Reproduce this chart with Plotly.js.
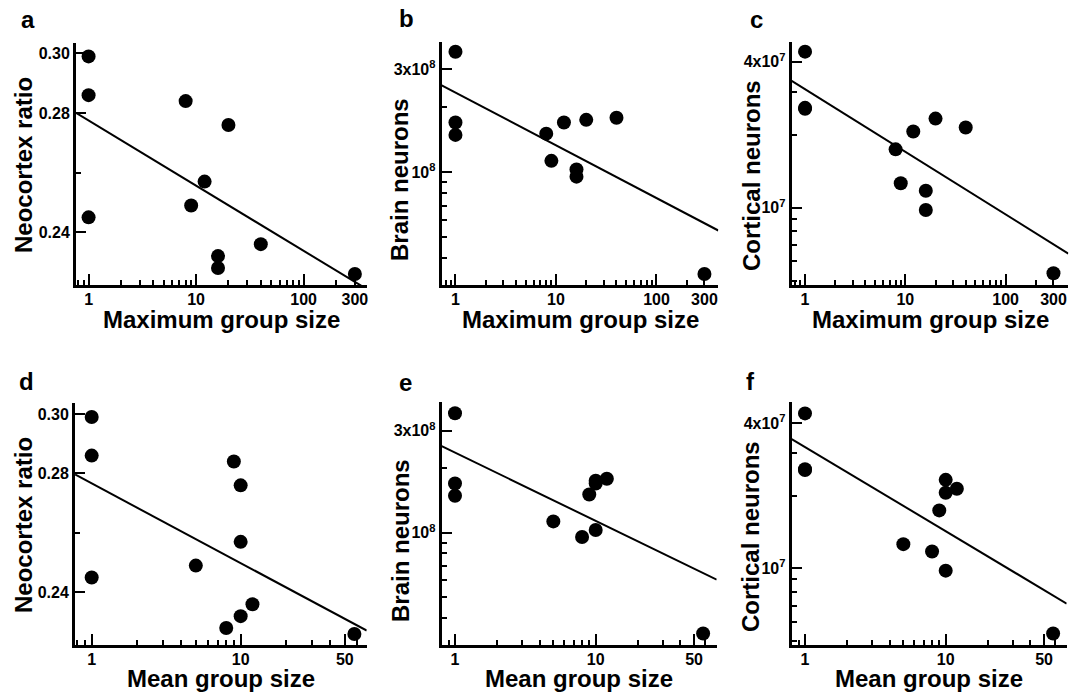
<!DOCTYPE html>
<html>
<head>
<meta charset="utf-8">
<script src="https://cdn.plot.ly/plotly-3.0.1.min.js"></script>
<style>
html,body{margin:0;padding:0;background:#ffffff;}
#chart{width:1084px;height:695px;}
</style>
</head>
<body>
<div id="chart"></div>
<script>
// ---------------- data (one entry per species) ----------------
const maxGroupSize    = [1, 1, 1, 8, 20, 12, 9, 16, 16, 40, 300];
const meanGroupSize   = [1, 1, 1, 9, 10, 10, 5, 10, 8, 12, 58];
const neocortexRatio  = [0.299, 0.286, 0.245, 0.284, 0.276, 0.257, 0.249, 0.232, 0.228, 0.236, 0.226];
const brainNeurons    = [3.62e8, 1.70e8, 1.49e8, 1.51e8, 1.75e8, 1.70e8, 1.13e8, 1.03e8, 0.955e8, 1.79e8, 3.38e7];
const corticalNeurons = [4.40e7, 2.58e7, 2.56e7, 1.74e7, 2.33e7, 2.06e7, 1.26e7, 0.978e7, 1.175e7, 2.14e7, 5.36e6];

// ---------------- labels / ticks ----------------
const panelLetters = ['a', 'b', 'c', 'd', 'e', 'f'];
const xTitles = ['Maximum group size', 'Mean group size'];
const yTitles = ['Neocortex ratio', 'Brain neurons', 'Cortical neurons'];

const maxTickVals  = [1, 10, 100, 300];
const maxTickText  = ['1', '10', '100', '300'];
const maxMinorVals = [0.8, 0.9, 2, 3, 4, 5, 6, 7, 8, 9, 20, 30, 40, 50, 60, 70, 80, 90, 200];
const meanTickVals  = [1, 10, 50];
const meanTickText  = ['1', '10', '50'];
const meanMinorVals = [0.8, 0.9, 2, 3, 4, 5, 6, 7, 8, 9, 20, 30, 40, 60];

const ratioTickVals  = [0.24, 0.28, 0.30];
const ratioTickText  = ['0.24', '0.28', '0.30'];
const ratioMinorVals = [0.26];
const brainTickVals  = [1e8, 3e8];
const brainTickText  = ['10<sup>8</sup>', '3x10<sup>8</sup>'];
const brainMinorVals = [4e7, 5e7, 6e7, 7e7, 8e7, 9e7, 2e8];
const cortTickVals   = [1e7, 4e7];
const cortTickText   = ['10<sup>7</sup>', '4x10<sup>7</sup>'];
const cortMinorVals  = [5e6, 6e6, 7e6, 8e6, 9e6, 2e7, 3e7];

// ---------------- styling / layout geometry ----------------
const W = 1084, H = 695;
const FONT = 'Liberation Sans, Arial, Helvetica, sans-serif';
const fx = px => px / W;
const fy = py => 1 - py / H;
const bold = arr => arr.map(s => '<b>' + s + '</b>');

// plot boxes in pixels [left, right, top, bottom] and axis ranges (log10 for log axes)
const panels = [
  {x: maxGroupSize,  y: neocortexRatio,  ylog: false, box: [76, 367, 43, 285],      xr: [-0.117, 2.590], yr: [0.2223, 0.3035],
   xt: 0, yt: 0, ytv: ratioTickVals, ytt: ratioTickText, ymv: ratioMinorVals, ytitle: [24, 165], xtitleY: 319},
  {x: maxGroupSize,  y: brainNeurons,    ylog: true,  box: [441.7, 718.3, 41.7, 285], xr: [-0.137, 2.615], yr: [7.478, 8.605],
   xt: 0, yt: 1, ytv: brainTickVals, ytt: brainTickText, ymv: brainMinorVals, ytitle: [400, 180], xtitleY: 319},
  {x: maxGroupSize,  y: corticalNeurons, ylog: true,  box: [791.7, 1068.3, 41.7, 285], xr: [-0.133, 2.625], yr: [6.681, 7.6845],
   xt: 0, yt: 2, ytv: cortTickVals, ytt: cortTickText, ymv: cortMinorVals, ytitle: [751, 176], xtitleY: 319},
  {x: meanGroupSize, y: neocortexRatio,  ylog: false, box: [75, 366.7, 403.3, 645],   xr: [-0.112, 1.846], yr: [0.2223, 0.3036],
   xt: 1, yt: 0, ytv: ratioTickVals, ytt: ratioTickText, ymv: ratioMinorVals, ytitle: [23, 525], xtitleY: 678},
  {x: meanGroupSize, y: brainNeurons,    ylog: true,  box: [441.7, 716.7, 401.7, 645], xr: [-0.0945, 1.860], yr: [7.475, 8.613],
   xt: 1, yt: 1, ytv: brainTickVals, ytt: brainTickText, ymv: brainMinorVals, ytitle: [400, 541], xtitleY: 678},
  {x: meanGroupSize, y: corticalNeurons, ylog: true,  box: [791.7, 1066.7, 401.7, 645], xr: [-0.0945, 1.860], yr: [6.6815, 7.692],
   xt: 1, yt: 2, ytv: cortTickVals, ytt: cortTickText, ymv: cortMinorVals, ytitle: [750, 537], xtitleY: 678}
];
const letterPos = [[28, 19], [406.5, 18.5], [756.5, 19], [26.5, 381.5], [405.5, 382.5], [750, 381.5]];

// ordinary least squares on log10(x) (and log10(y) for log axes)
function fitLine(xs, ys, ylog, xr) {
  const X = [], Y = [];
  for (let i = 0; i < xs.length; i++) {
    if (xs[i] == null || ys[i] == null) continue;
    X.push(Math.log10(xs[i]));
    Y.push(ylog ? Math.log10(ys[i]) : ys[i]);
  }
  const n = X.length;
  const mx = X.reduce((a, b) => a + b, 0) / n;
  const my = Y.reduce((a, b) => a + b, 0) / n;
  let sxy = 0, sxx = 0;
  for (let i = 0; i < n; i++) { sxy += (X[i] - mx) * (Y[i] - my); sxx += (X[i] - mx) * (X[i] - mx); }
  const b = sxy / sxx, a = my - b * mx;
  const lx = [xr[0], xr[1]];
  return {
    x: lx.map(v => Math.pow(10, v)),
    y: lx.map(v => ylog ? Math.pow(10, a + b * v) : a + b * v)
  };
}

const traces = [];
const layout = {
  width: W, height: H,
  margin: {l: 0, r: 0, t: 0, b: 0, pad: 0},
  paper_bgcolor: '#ffffff', plot_bgcolor: '#ffffff',
  showlegend: false, hovermode: false,
  font: {family: FONT, color: '#000000'},
  annotations: []
};

const tickFont = () => ({family: FONT, size: 16, color: '#000000', weight: 'bold'});
const titleFont = () => ({family: FONT, size: 24, color: '#000000', weight: 'bold'});

panels.forEach((p, i) => {
  const k = i === 0 ? '' : String(i + 1);
  const xa = 'x' + k, ya = 'y' + k;
  const fit = fitLine(p.x, p.y, p.ylog, p.xr);
  traces.push({
    type: 'scatter', mode: 'lines', x: fit.x, y: fit.y, xaxis: xa, yaxis: ya,
    line: {color: '#000000', width: 2}, hoverinfo: 'skip'
  });
  traces.push({
    type: 'scatter', mode: 'markers', x: p.x, y: p.y, xaxis: xa, yaxis: ya,
    marker: {color: '#000000', size: 14, line: {width: 0}}, cliponaxis: false
  });

  const isMax = p.xt === 0;
  layout['xaxis' + k] = {
    type: 'log', domain: [fx(p.box[0]), fx(p.box[1])], range: p.xr, anchor: ya,
    tickmode: 'array', tickvals: isMax ? maxTickVals : meanTickVals, ticktext: bold(isMax ? maxTickText : meanTickText),
    ticks: 'inside', ticklen: 11, tickwidth: 2, tickcolor: '#000000',
    minor: {tickmode: 'array', tickvals: isMax ? maxMinorVals : meanMinorVals, ticks: 'inside', ticklen: 5, tickwidth: 2, tickcolor: '#000000', showgrid: false},
    showline: true, linewidth: 3, linecolor: '#000000', mirror: false,
    showgrid: false, zeroline: false, automargin: false, fixedrange: true,
    tickfont: tickFont(), ticklabelstandoff: -2
  };
  layout['yaxis' + k] = {
    type: p.ylog ? 'log' : 'linear', domain: [fy(p.box[3]), fy(p.box[2])], range: p.yr, anchor: xa,
    tickmode: 'array', tickvals: p.ytv, ticktext: bold(p.ytt),
    ticks: 'inside', ticklen: 10, tickwidth: 2, tickcolor: '#000000',
    minor: {tickmode: 'array', tickvals: p.ymv, ticks: 'inside', ticklen: 5, tickwidth: 2, tickcolor: '#000000', showgrid: false},
    showline: true, linewidth: 3, linecolor: '#000000', mirror: false,
    showgrid: false, zeroline: false, automargin: false, fixedrange: true,
    tickfont: tickFont()
  };
  // x-axis title, centred under the plot box
  layout.annotations.push({
    xref: 'paper', yref: 'paper', x: fx((p.box[0] + p.box[1]) / 2), y: fy(p.xtitleY),
    xanchor: 'center', yanchor: 'middle', showarrow: false,
    text: xTitles[p.xt], font: titleFont()
  });
  // y-axis title (rotated text beside the axis)
  layout.annotations.push({
    xref: 'paper', yref: 'paper', x: fx(p.ytitle[0]), y: fy(p.ytitle[1]),
    xanchor: 'center', yanchor: 'middle', textangle: -90, showarrow: false,
    text: yTitles[p.yt], font: titleFont()
  });
  // panel letter
  layout.annotations.push({
    xref: 'paper', yref: 'paper', x: fx(letterPos[i][0]), y: fy(letterPos[i][1]),
    xanchor: 'center', yanchor: 'middle', showarrow: false,
    text: panelLetters[i], font: titleFont()
  });
});

Plotly.newPlot('chart', traces, layout, {displayModeBar: false, staticPlot: true});
</script>
</body>
</html>
